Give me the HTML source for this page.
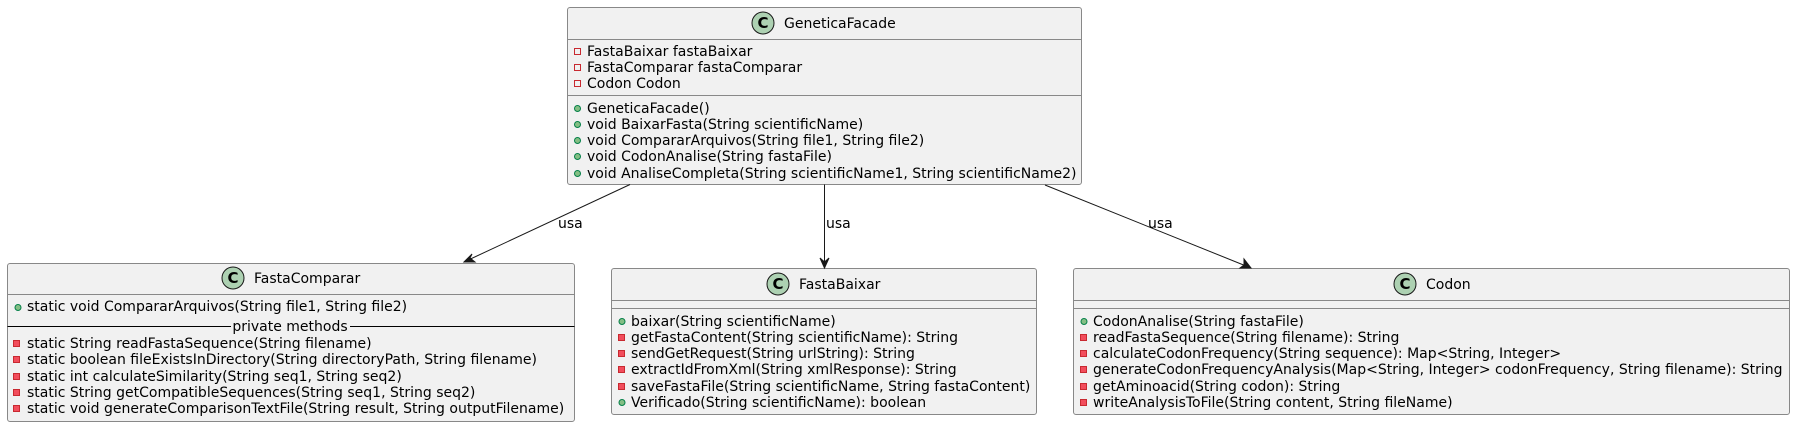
<!DOCTYPE html>
<html><head><meta charset="utf-8"><style>
html,body{margin:0;padding:0;background:#fff;}
svg{display:block;}
text{font-family:"DejaVu Sans","Liberation Sans",sans-serif;font-size:14px;fill:#000;}
.box{fill:#f1f1f1;stroke:#888;stroke-width:1;}
.sep{stroke:#888;stroke-width:1;}
.pub{fill:#84be84;stroke:#038048;stroke-width:1;}
.prif{fill:none;stroke:#c82930;stroke-width:1;}
.prim{fill:#f24d5c;stroke:#c82930;stroke-width:1;}
.ln{stroke:#181818;stroke-width:1;fill:none;}
</style></head><body>
<svg width="1797" height="426" viewBox="0 0 1797 426" xmlns="http://www.w3.org/2000/svg">
<!-- GeneticaFacade -->
<rect class="box" x="567.5" y="7.5" width="514" height="177" rx="2.5"/>
<circle cx="763" cy="23" r="11" fill="#add1b2" stroke="#181818"/>
<text x="763" y="28" text-anchor="middle" style="font-weight:bold;font-size:15px">C</text>
<text x="784" y="28">GeneticaFacade</text>
<line class="sep" x1="567.5" y1="39.5" x2="1081.5" y2="39.5"/>
<rect class="prif" x="574.5" y="48.5" width="6" height="6"/><text x="587" y="56">FastaBaixar fastaBaixar</text>
<rect class="prif" x="574.5" y="64.5" width="6" height="6"/><text x="587" y="72">FastaComparar fastaComparar</text>
<rect class="prif" x="574.5" y="80.5" width="6" height="6"/><text x="587" y="88">Codon Codon</text>
<line class="sep" x1="567.5" y1="95.5" x2="1081.5" y2="95.5"/>
<circle class="pub" cx="577.5" cy="108.5" r="3"/><text x="587" y="113">GeneticaFacade()</text>
<circle class="pub" cx="577.5" cy="124.5" r="3"/><text x="587" y="129">void BaixarFasta(String scientificName)</text>
<circle class="pub" cx="577.5" cy="140.5" r="3"/><text x="587" y="145">void CompararArquivos(String file1, String file2)</text>
<circle class="pub" cx="577.5" cy="156.5" r="3"/><text x="587" y="161">void CodonAnalise(String fastaFile)</text>
<circle class="pub" cx="577.5" cy="173.5" r="3"/><text x="587" y="178">void AnaliseCompleta(String scientificName1, String scientificName2)</text>

<!-- FastaComparar -->
<rect class="box" x="7.5" y="263.5" width="567" height="158" rx="2.5"/>
<circle cx="233" cy="278" r="11" fill="#add1b2" stroke="#181818"/>
<text x="233" y="283" text-anchor="middle" style="font-weight:bold;font-size:15px">C</text>
<text x="254" y="283">FastaComparar</text>
<line class="sep" x1="7.5" y1="294.5" x2="574.5" y2="294.5"/>
<circle class="pub" cx="18" cy="307.5" r="3"/><text x="27" y="311">static void CompararArquivos(String file1, String file2)</text>
<line x1="7.5" y1="326.5" x2="231" y2="326.5" stroke="#000"/>
<line x1="350" y1="326.5" x2="574.5" y2="326.5" stroke="#000"/>
<text x="290" y="331" text-anchor="middle">private methods</text>
<rect class="prim" x="13.5" y="340.5" width="6" height="6"/><text x="27" y="348">static String readFastaSequence(String filename)</text>
<rect class="prim" x="13.5" y="356.5" width="6" height="6"/><text x="27" y="364">static boolean fileExistsInDirectory(String directoryPath, String filename)</text>
<rect class="prim" x="13.5" y="373.5" width="6" height="6"/><text x="27" y="381">static int calculateSimilarity(String seq1, String seq2)</text>
<rect class="prim" x="13.5" y="389.5" width="6" height="6"/><text x="27" y="397">static String getCompatibleSequences(String seq1, String seq2)</text>
<rect class="prim" x="13.5" y="405.5" width="6" height="6"/><text x="27" y="413">static void generateComparisonTextFile(String result, String outputFilename)</text>

<!-- FastaBaixar -->
<rect class="box" x="611.5" y="268.5" width="425" height="146" rx="2.5"/>
<circle cx="778" cy="284" r="11" fill="#add1b2" stroke="#181818"/>
<text x="778" y="289" text-anchor="middle" style="font-weight:bold;font-size:15px">C</text>
<text x="799" y="289">FastaBaixar</text>
<line class="sep" x1="611.5" y1="300.5" x2="1036.5" y2="300.5"/>
<line class="sep" x1="611.5" y1="308.5" x2="1036.5" y2="308.5"/>
<circle class="pub" cx="622" cy="321.5" r="3"/><text x="631" y="326">baixar(String scientificName)</text>
<rect class="prim" x="618.5" y="334.5" width="6" height="6"/><text x="631" y="342">getFastaContent(String scientificName): String</text>
<rect class="prim" x="618.5" y="350.5" width="6" height="6"/><text x="631" y="358">sendGetRequest(String urlString): String</text>
<rect class="prim" x="618.5" y="366.5" width="6" height="6"/><text x="631" y="374">extractIdFromXml(String xmlResponse): String</text>
<rect class="prim" x="618.5" y="383.5" width="6" height="6"/><text x="631" y="391">saveFastaFile(String scientificName, String fastaContent)</text>
<circle class="pub" cx="622" cy="402.5" r="3"/><text x="631" y="407">Verificado(String scientificName): boolean</text>

<!-- Codon -->
<rect class="box" x="1073.5" y="268.5" width="716" height="146" rx="2.5"/>
<circle cx="1405" cy="284" r="11" fill="#add1b2" stroke="#181818"/>
<text x="1405" y="289" text-anchor="middle" style="font-weight:bold;font-size:15px">C</text>
<text x="1426" y="289">Codon</text>
<line class="sep" x1="1073.5" y1="300.5" x2="1789.5" y2="300.5"/>
<line class="sep" x1="1073.5" y1="308.5" x2="1789.5" y2="308.5"/>
<circle class="pub" cx="1084" cy="321.5" r="3"/><text x="1093" y="326">CodonAnalise(String fastaFile)</text>
<rect class="prim" x="1080.5" y="334.5" width="6" height="6"/><text x="1093" y="342">readFastaSequence(String filename): String</text>
<rect class="prim" x="1080.5" y="350.5" width="6" height="6"/><text x="1093" y="358">calculateCodonFrequency(String sequence): Map&lt;String, Integer&gt;</text>
<rect class="prim" x="1080.5" y="366.5" width="6" height="6"/><text x="1093" y="374">generateCodonFrequencyAnalysis(Map&lt;String, Integer&gt; codonFrequency, String filename): String</text>
<rect class="prim" x="1080.5" y="383.5" width="6" height="6"/><text x="1093" y="391">getAminoacid(String codon): String</text>
<rect class="prim" x="1080.5" y="399.5" width="6" height="6"/><text x="1093" y="407">writeAnalysisToFile(String content, String fileName)</text>

<!-- Connectors -->
<line class="ln" x1="630" y1="184.5" x2="464" y2="262"/>
<path d="M464,262 L472,254 L470,258 L475,262 Z" fill="#181818" stroke="#181818"/>
<text x="558" y="228">usa</text>

<line class="ln" x1="824.5" y1="184.5" x2="824.5" y2="267"/>
<path d="M824.5,268 L820,258 L824.5,262 L829,258 Z" fill="#181818" stroke="#181818"/>
<text x="826" y="228">usa</text>

<line class="ln" x1="1045" y1="185" x2="1251" y2="268"/>
<path d="M1251,268 L1240,268 L1244,265 L1244,259 Z" fill="#181818" stroke="#181818"/>
<text x="1148" y="228">usa</text>
</svg>
</body></html>
